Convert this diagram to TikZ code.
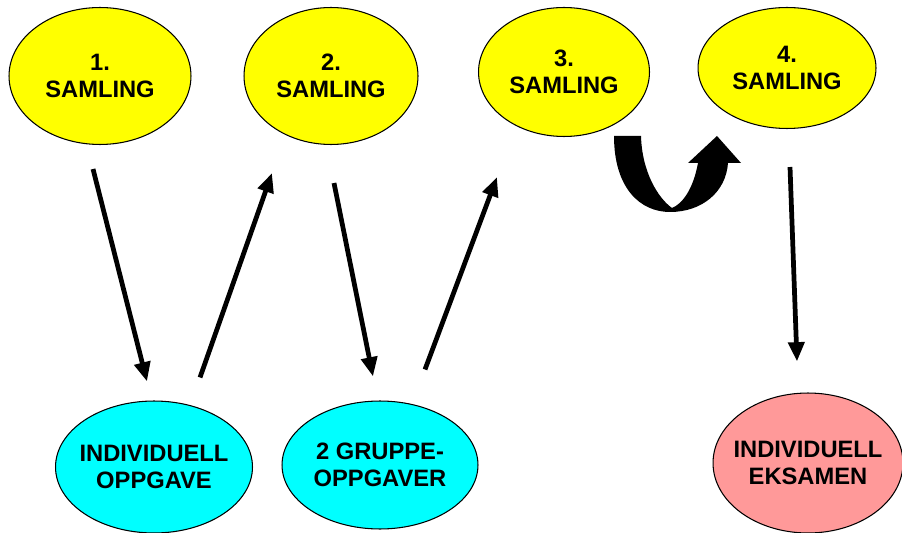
\documentclass[tikz,border=0pt]{standalone}
\usepackage{fontspec}
\setmainfont{Liberation Sans}
\usetikzlibrary{shapes.geometric,arrows.meta,calc}

\definecolor{samlingyellow}{RGB}{255,255,0}
\definecolor{oppgavecyan}{RGB}{0,255,255}
\definecolor{eksamenpink}{RGB}{255,153,153}

\tikzset{
  station/.style={ellipse, draw=black, line width=0.6pt, inner sep=-8pt,
    align=center, font=\fontsize{13.5}{15.5}\selectfont\bfseries},
  samling/.style={station, fill=samlingyellow},
  oppgave/.style={station, fill=oppgavecyan},
  eksamen/.style={station, fill=eksamenpink},
  flow/.style={line width=2.7pt, -{Triangle[length=11pt,width=9pt]}}
}

\begin{document}
\begin{tikzpicture}[x=0.02cm, y=-0.02cm]
  \useasboundingbox (0,0) rectangle (902,533);

  % the four gatherings
  \node[samling, minimum width=3.64cm, minimum height=2.74cm] (s1) at (100,76) {1.\\SAMLING};
  \node[samling, minimum width=3.48cm, minimum height=2.74cm] (s2) at (331,76) {2.\\SAMLING};
  \node[samling, minimum width=3.42cm, minimum height=2.58cm] (s3) at (564,72) {3.\\SAMLING};
  \node[samling, minimum width=3.56cm, minimum height=2.42cm] (s4) at (787,68) {4.\\SAMLING};

  % tasks and exam
  \node[oppgave, minimum width=3.94cm, minimum height=2.64cm] (i1) at (154,467) {INDIVIDUELL\\OPPGAVE};
  \node[oppgave, minimum width=3.92cm, minimum height=2.56cm] (g2) at (380,465) {2 GRUPPE-\\OPPGAVER};
  \node[eksamen, minimum width=3.80cm, minimum height=2.80cm] (e1) at (808,463) {INDIVIDUELL\\EKSAMEN};

  \draw[flow] ($(s1.south)+(-7,24)$) -- ($(i1.north)+(-7,-19)$);
  \draw[flow] ($(i1.north)+(46,-23)$) -- ($(s2.south)+(-59,28)$);
  \draw[flow] ($(s2.south)+(3,38)$) -- ($(g2.north)+(-7,-24)$);
  \draw[flow] ($(g2.north)+(45,-31)$) -- ($(s3.south)+(-67,40)$);
  \draw[flow] ($(s4.south)+(3,38)$) -- ($(e1.north)+(-11,-31)$);

  % U-turn from 3 to 4
  \fill[black] (614,136) .. controls (614,188) and (640,212) .. (670,212)
    .. controls (702,212) and (726,192) .. (728,163) -- (741,163) -- (717,136)
    -- (688,163) -- (698,163) .. controls (693,190) and (682,204) .. (672,208)
    .. controls (658,198) and (642,172) .. (641,136) -- cycle;
\end{tikzpicture}
\end{document}
